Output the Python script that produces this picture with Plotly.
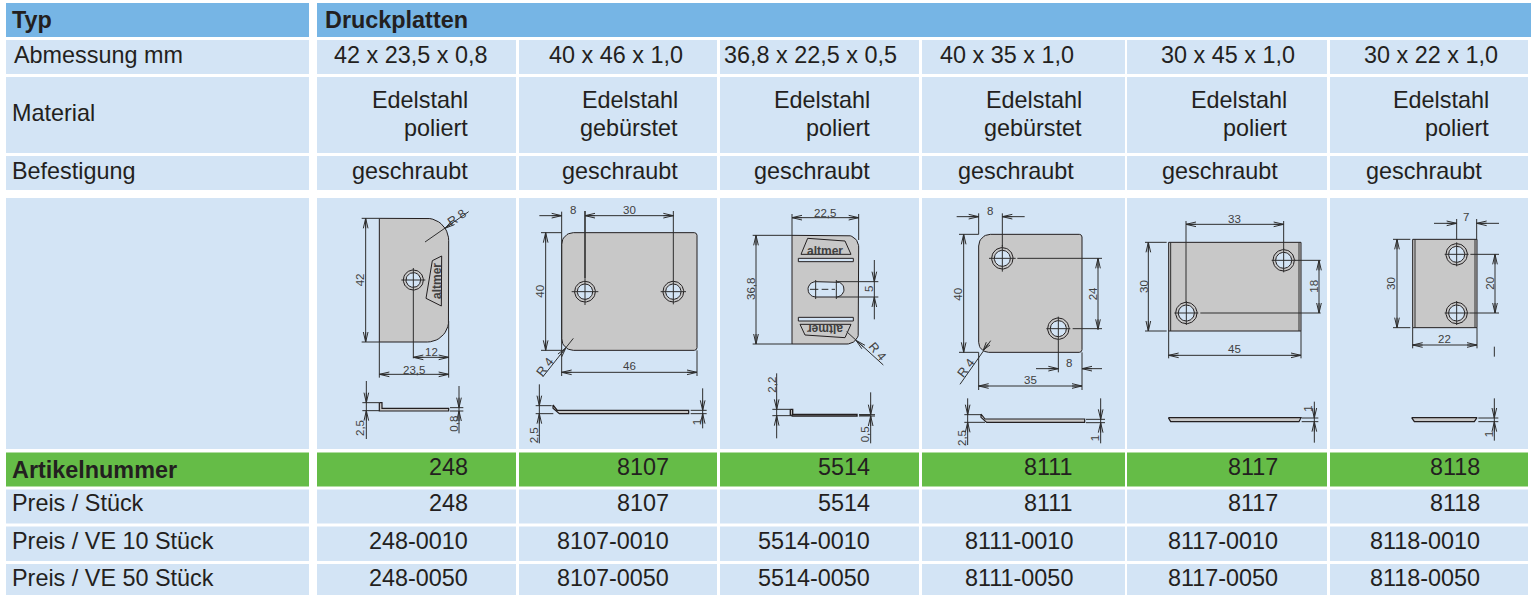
import numpy as np
import plotly.graph_objects as go

# ---------- table content ----------
row_type = "Typ"
group_title = "Druckplatten"
row_labels = ["Abmessung mm", "Material", "Befestigung", "Artikelnummer",
              "Preis / Stück", "Preis / VE 10 Stück", "Preis / VE 50 Stück"]
dimensions = ["42 x 23,5 x 0,8", "40 x 46 x 1,0", "36,8 x 22,5 x 0,5",
              "40 x 35 x 1,0", "30 x 45 x 1,0", "30 x 22 x 1,0"]
material_top = ["Edelstahl"] * 6
material_bottom = ["poliert", "gebürstet", "poliert", "gebürstet", "poliert", "poliert"]
fixing = ["geschraubt"] * 6
articles = ["248", "8107", "5514", "8111", "8117", "8118"]
price_piece = ["248", "8107", "5514", "8111", "8117", "8118"]
price_ve10 = ["248-0010", "8107-0010", "5514-0010", "8111-0010", "8117-0010", "8118-0010"]
price_ve50 = ["248-0050", "8107-0050", "5514-0050", "8111-0050", "8117-0050", "8118-0050"]

# ---------- layout ----------
W, H = 1531, 595
BLUE, CELL, GREEN, GRAY = "#76B5E5", "#D3E4F5", "#65BC47", "#C8C8C8"
INK, DIM = "#231F20", "#2E2E2E"
FS = 23.4
PAD = 2  # annotations sit this far inside their anchor
col_x = [(317, 516), (519, 717), (720, 919), (922, 1125), (1127, 1327), (1330, 1528)]
rows = [(40, 74), (77, 153), (156, 190), (198, 449), (452.5, 486.5),
        (489.5, 523.5), (526.5, 561), (564, 595)]
dim_left = [334, 549, 724, 940, 1161, 1364]
mat_right = [468, 678, 870, 1082, 1287, 1489]
fix_right = [468, 678, 870, 1074, 1278, 1482]
num_right = [468, 669, 870, 1073, 1278, 1480]

fig = go.Figure()
shapes, notes = [], []


def rect(x0, y0, x1, y1, color):
    shapes.append(dict(type="rect", x0=x0, y0=y0, x1=x1, y1=y1, xref="x", yref="y",
                       fillcolor=color, line_width=0, layer="below"))


def text(x, y, s, anchor="left", size=FS, bold=False, angle=0, color=INK):
    shift = {"left": -PAD, "right": PAD}.get(anchor, 0)
    notes.append(dict(x=x + shift, y=y, text=f"<b>{s}</b>" if bold else s, xref="x", yref="y",
                      xanchor=anchor, yanchor="middle", showarrow=False, textangle=angle,
                      font=dict(family="Liberation Sans, Arial", size=size, color=color)))


rect(6, 3, 309, 37, BLUE)
rect(317, 3, 1531, 37, BLUE)
for i, (y0, y1) in enumerate(rows):
    color = GREEN if i == 4 else CELL
    rect(6, y0, 309, y1, color)
    for x0, x1 in col_x:
        rect(x0, y0, x1, y1, color)

text(12, 20, row_type, bold=True)
text(325, 20, group_title, bold=True)
text(14, 55, row_labels[0])
text(12, 113, row_labels[1])
text(12, 171, row_labels[2])
text(12, 470, row_labels[3], bold=True)
text(12, 503, row_labels[4])
text(12, 541, row_labels[5])
text(12, 578, row_labels[6])
for c in range(6):
    text(dim_left[c], 55, dimensions[c])
    text(mat_right[c], 100, material_top[c], "right")
    text(mat_right[c], 128, material_bottom[c], "right")
    text(fix_right[c], 171, fixing[c], "right")
    text(num_right[c], 467, articles[c], "right")
    text(num_right[c], 503, price_piece[c], "right")
    text(num_right[c], 541, price_ve10[c], "right")
    text(num_right[c], 578, price_ve50[c], "right")


# ---------- technical drawings (local units are 1/3 px inside a panel) ----------
class Panel:
    def __init__(self, ox, oy):
        self.ox, self.oy = ox, oy
        self.lx, self.ly = [], []
        self.hx, self.hy = [], []

    def px(self, x, y):
        return self.ox + np.asarray(x) / 3, self.oy + np.asarray(y) / 3

    def seg(self, x0, y0, x1, y1, heavy=False):
        xs, ys = self.px([x0, x1], [y0, y1])
        (self.hx if heavy else self.lx).extend([xs[0], xs[1], None])
        (self.hy if heavy else self.ly).extend([ys[0], ys[1], None])

    def arrow(self, tx, ty, dx, dy, length=30, half=7):
        n = np.hypot(dx, dy)
        ux, uy = dx / n, dy / n
        for s in (-1, 1):
            self.seg(tx, ty, tx + ux * length - uy * half * s, ty + uy * length + ux * half * s)
        self.seg(tx + ux * length, ty + uy * length, tx, ty)

    def hdim(self, x0, x1, y):
        self.seg(x0, y, x1, y)
        self.arrow(x0, y, 1, 0)
        self.arrow(x1, y, -1, 0)

    def vdim(self, x, y0, y1):
        self.seg(x, y0, x, y1)
        self.arrow(x, y0, 0, 1)
        self.arrow(x, y1, 0, -1)

    def label(self, x, y, s, angle=0, size=11.5):
        xs, ys = self.px(x, y)
        text(float(xs), float(ys), s, "center", size=size, angle=angle, color="#404040")

    def poly(self, pts, fill=GRAY, width=1, line=INK):
        xs, ys = self.px([p[0] for p in pts], [p[1] for p in pts])
        fig.add_trace(go.Scatter(x=xs, y=ys, mode="lines", fill="toself", fillcolor=fill,
                                 line=dict(color=line, width=width), hoverinfo="skip"))

    def plate(self, l, t, r, b, tl=0, tr=0, br=0, bl=0):
        pts = []
        for cx, cy, rad, a0 in [(l + tl, t + tl, tl, 180), (r - tr, t + tr, tr, 270),
                                (r - br, b - br, br, 0), (l + bl, b - bl, bl, 90)]:
            for a in np.radians(np.linspace(a0, a0 + 90, 12)):
                pts.append((cx + rad * np.cos(a), cy + rad * np.sin(a)))
        pts.append(pts[0])
        self.poly(pts)

    def circle(self, cx, cy, rad, fill):
        a = np.radians(np.linspace(0, 360, 49))
        self.poly(list(zip(cx + rad * np.cos(a), cy + rad * np.sin(a))), fill=fill)

    def hole(self, cx, cy, outer=31, inner=23, span=38):
        self.circle(cx, cy, outer, GRAY)
        self.circle(cx, cy, inner, CELL)
        self.seg(cx - span, cy, cx + span, cy)
        self.seg(cx, cy - span, cx, cy + span)

    def finish(self):
        fig.add_trace(go.Scatter(x=self.lx, y=self.ly, mode="lines", hoverinfo="skip",
                                 line=dict(color=DIM, width=1)))
        if self.hx:
            fig.add_trace(go.Scatter(x=self.hx, y=self.hy, mode="lines", hoverinfo="skip",
                                     line=dict(color=DIM, width=1.6)))


# panel with plates 1 and 2
p = Panel(320, 195)
p.plate(178, 70, 386, 441, tr=66, br=64)
p.poly([(337, 197), (365, 183), (364, 333), (318, 310), (337, 197)], fill=GRAY)
p.hole(280, 255, 30, 22, 36)
p.label(351, 258, "<b>altmer</b>", -90, 12)
p.seg(125, 70, 178, 70); p.seg(125, 441, 178, 441)
p.vdim(137, 70, 441); p.label(121, 255, "42", -90)
p.seg(315, 141, 446, 50); p.arrow(375, 100, 0.82, -0.57); p.label(410, 68, "R\u00a08", -35, 12.5)
p.seg(280, 291, 280, 490); p.hdim(280, 386, 487); p.label(333, 472, "12")
p.seg(386, 378, 386, 548); p.seg(178, 441, 178, 548)
p.hdim(178, 386, 538); p.label(281, 524, "23,5")
p.poly([(178, 623), (186, 623), (186, 640), (386, 640), (386, 648), (178, 648), (178, 623)], width=1.2)
p.seg(139, 558, 139, 732); p.seg(127, 623, 178, 623); p.seg(127, 647, 178, 647)
p.arrow(139, 623, 0, -1); p.arrow(139, 647, 0, 1); p.label(122, 700, "2,5", -90)
p.seg(417, 573, 417, 715); p.seg(390, 638, 430, 638); p.seg(390, 648, 430, 648)
p.arrow(417, 638, 0, -1); p.arrow(417, 648, 0, 1); p.label(402, 686, "0,8", -90)

p.plate(725, 113, 1131, 466, tl=35, tr=8, br=8, bl=35)
p.hole(795, 290, 31, 23, 40); p.hole(1060, 290, 31, 23, 38)
p.seg(795, 48, 795, 250, heavy=True); p.seg(1060, 48, 1060, 252)
p.seg(725, 50, 725, 543); p.seg(1131, 466, 1131, 543)
p.seg(658, 62, 725, 62); p.arrow(725, 62, -1, 0)
p.hdim(795, 1060, 62); p.label(760, 46, "8"); p.label(927, 46, "30")
p.seg(663, 113, 725, 113); p.seg(663, 466, 725, 466)
p.vdim(677, 113, 466); p.label(660, 290, "40", -90)
p.seg(668, 546, 760, 430); p.arrow(738, 458, -0.62, 0.78); p.label(675, 515, "R\u00a04", -52, 12.5)
p.hdim(725, 1131, 532); p.label(927, 514, "46")
p.poly([(699, 630), (712, 646), (1106, 646), (1106, 656), (718, 656), (699, 640), (699, 630)], width=1.2)
p.seg(658, 568, 658, 745); p.seg(647, 632, 695, 632); p.seg(647, 656, 700, 656)
p.arrow(658, 632, 0, -1); p.arrow(658, 656, 0, 1); p.label(643, 720, "2,5", -90)
p.seg(1148, 580, 1148, 700); p.seg(1112, 646, 1160, 646); p.seg(1112, 656, 1160, 656)
p.arrow(1148, 646, 0, -1); p.arrow(1148, 656, 0, 1); p.label(1130, 683, "1", -90)
p.finish()

# panel with plates 3 and 4
p = Panel(720, 195)
p.plate(216, 121, 416, 447, tr=35, br=35)
p.poly([(263, 130), (375, 138), (393, 178), (243, 178), (263, 130)])
p.label(315, 167, "<b>altmer</b>", 0, 12)
p.poly([(235, 190), (400, 190), (400, 200), (235, 200), (235, 190)], fill=CELL)
p.poly([(235, 367), (400, 367), (400, 378), (235, 378), (235, 367)], fill=CELL)
p.poly([(240, 388), (393, 388), (375, 428), (255, 420), (240, 388)])
p.label(315, 404, "<b>altmer</b>", 180, 12)
slot = [(287 + 23 * np.cos(a), 283 + 23 * np.sin(a)) for a in np.radians(np.linspace(90, 270, 16))]
slot += [(349 + 23 * np.cos(a), 283 + 23 * np.sin(a)) for a in np.radians(np.linspace(-90, 90, 16))]
p.poly(slot + slot[:1], fill=CELL)
p.seg(287, 255, 287, 312); p.seg(349, 255, 349, 312)
p.seg(270, 283, 295, 283); p.seg(305, 283, 325, 283); p.seg(335, 283, 345, 283)
p.seg(349, 260, 475, 260); p.seg(349, 306, 475, 306)
p.seg(463, 195, 463, 373); p.arrow(463, 260, 0, -1); p.arrow(463, 306, 0, 1)
p.label(449, 283, "5", -90)
p.seg(216, 57, 216, 121); p.seg(416, 57, 416, 135)
p.hdim(216, 416, 68); p.label(314, 54, "22,5")
p.seg(98, 121, 216, 121); p.seg(98, 447, 216, 447)
p.vdim(108, 121, 447); p.label(95, 283, "36,8", -90)
p.seg(380, 410, 490, 510); p.arrow(408, 436, 0.74, 0.67); p.label(472, 472, "R\u00a04", 50, 12.5)
p.poly([(211, 643), (218, 643), (218, 658), (411, 658), (411, 663), (218, 663), (211, 660), (211, 643)], width=1.4)
p.seg(418, 660, 450, 660, heavy=True)
p.seg(170, 535, 170, 730); p.seg(157, 643, 211, 643); p.seg(157, 662, 218, 662)
p.arrow(170, 643, 0, -1); p.arrow(170, 662, 0, 1); p.label(155, 570, "2,2", -90)
p.seg(452, 592, 452, 745); p.seg(417, 659, 465, 659); p.seg(417, 663, 465, 663)
p.arrow(452, 659, 0, -1); p.arrow(452, 663, 0, 1); p.label(435, 718, "0,5", -90)

p.plate(776, 118, 1086, 472, tl=35, tr=8, br=8, bl=30)
p.hole(847, 190, 32, 24, 40); p.hole(1015, 401, 32, 24, 36)
p.seg(847, 55, 847, 155); p.seg(776, 55, 776, 118); p.seg(776, 472, 776, 585); p.seg(1086, 472, 1086, 585)
p.seg(710, 65, 776, 65); p.arrow(776, 65, -1, 0)
p.seg(847, 65, 914, 65); p.arrow(847, 65, 1, 0); p.label(810, 48, "8")
p.seg(717, 118, 776, 118); p.seg(717, 472, 776, 472)
p.vdim(731, 118, 472); p.label(713, 297, "40", -90)
p.seg(892, 190, 1146, 190); p.seg(1058, 401, 1146, 401)
p.vdim(1134, 190, 403); p.label(1120, 297, "24", -90)
p.seg(720, 568, 812, 437); p.arrow(790, 465, 0.6, -0.8, 24); p.label(738, 518, "R\u00a04", -52, 12.5)
p.seg(1015, 436, 1015, 532)
p.seg(948, 521, 1015, 521); p.arrow(1015, 521, -1, 0)
p.seg(1086, 521, 1146, 521); p.arrow(1086, 521, 1, 0); p.label(1048, 505, "8")
p.hdim(776, 1086, 573); p.label(930, 556, "35")
p.poly([(783, 657), (795, 672), (1094, 672), (1094, 682), (800, 682), (783, 667), (783, 657)], width=1.2)
p.seg(743, 610, 743, 750); p.seg(733, 659, 785, 659); p.seg(733, 682, 795, 682)
p.arrow(743, 659, 0, -1); p.arrow(743, 682, 0, 1); p.label(728, 730, "2,5", -90)
p.seg(1142, 610, 1142, 745); p.seg(1098, 673, 1155, 673); p.seg(1098, 683, 1155, 683)
p.arrow(1142, 673, 0, -1); p.arrow(1142, 683, 0, 1); p.label(1125, 730, "1", -90)
p.finish()

# panel with plates 5 and 6
p = Panel(1125, 195)
p.plate(131, 142, 528, 408)
p.seg(137, 142, 137, 408); p.seg(522, 142, 522, 408)
p.hole(476, 196, 32, 24, 36); p.hole(184, 354, 32, 24, 36)
p.seg(183, 78, 183, 320); p.seg(476, 78, 476, 163)
p.seg(510, 196, 587, 196); p.seg(226, 354, 587, 354)
p.seg(131, 408, 131, 490); p.seg(528, 408, 528, 490)
p.hdim(183, 476, 88); p.label(328, 73, "33")
p.seg(60, 142, 125, 142); p.seg(60, 408, 125, 408)
p.vdim(70, 142, 408); p.label(55, 275, "30", -90)
p.vdim(582, 196, 354); p.label(567, 275, "18", -90)
p.hdim(131, 528, 481); p.label(328, 463, "45")
p.poly([(130, 668), (528, 668), (522, 680), (137, 680), (130, 668)], width=1.2)
p.seg(568, 620, 568, 743); p.seg(530, 669, 580, 669); p.seg(530, 680, 580, 680)
p.arrow(568, 669, 0, -1); p.arrow(568, 680, 0, 1); p.label(550, 640, "1", -90)

p.plate(863, 133, 1056, 398)
p.seg(870, 133, 870, 398); p.seg(1050, 133, 1050, 398)
p.hole(995, 178, 32, 24, 36); p.hole(995, 354, 32, 24, 36)
p.seg(995, 72, 995, 133); p.seg(1055, 72, 1055, 133)
p.seg(1036, 178, 1122, 178); p.seg(1033, 354, 1122, 354)
p.seg(863, 398, 863, 460); p.seg(1056, 398, 1056, 460)
p.seg(927, 85, 995, 85); p.arrow(995, 85, -1, 0)
p.seg(1055, 85, 1122, 85); p.arrow(1055, 85, 1, 0); p.label(1024, 67, "7")
p.seg(804, 133, 856, 133); p.seg(804, 398, 856, 398)
p.vdim(816, 133, 398); p.label(800, 265, "30", -90)
p.vdim(1110, 178, 354); p.label(1096, 265, "20", -90)
p.hdim(863, 1056, 450); p.label(958, 433, "22")
p.seg(1108, 455, 1108, 485)
p.poly([(860, 668), (1056, 668), (1048, 680), (868, 680), (860, 668)], width=1.2)
p.seg(1108, 610, 1108, 737); p.seg(1060, 669, 1120, 669); p.seg(1060, 680, 1120, 680)
p.arrow(1108, 669, 0, -1); p.arrow(1108, 680, 0, 1); p.label(1092, 718, "1", -90)
p.finish()

fig.update_layout(
    width=W, height=H, margin=dict(l=0, r=0, t=0, b=0), showlegend=False,
    paper_bgcolor="white", plot_bgcolor="white", shapes=shapes, annotations=notes,
    xaxis=dict(range=[0, W], visible=False, fixedrange=True),
    yaxis=dict(range=[H, 0], visible=False, fixedrange=True),
)
fig.write_html("out.html", config=dict(displayModeBar=False),
               post_script="document.body.style.margin='0';document.documentElement.style.overflow='hidden';")
